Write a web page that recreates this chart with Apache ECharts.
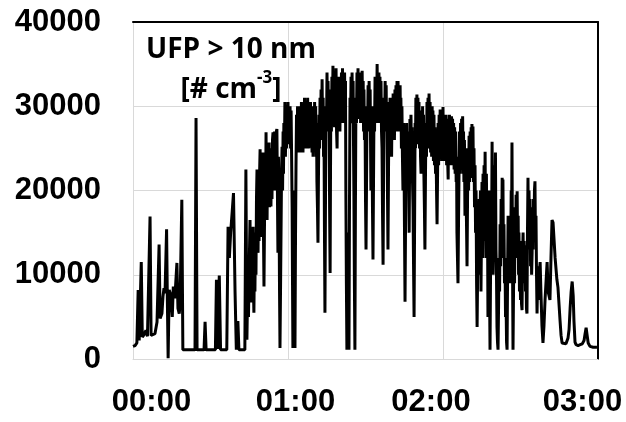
<!DOCTYPE html>
<html>
<head>
<meta charset="utf-8">
<script src="https://cdn.jsdelivr.net/npm/echarts@6/dist/echarts.min.js"></script>
<style>
html,body{margin:0;padding:0;background:#fff;}
#c{width:626px;height:422px;}
</style>
</head>
<body>
<div id="c"></div>
<script>
// x tick labels (minutes 0, 60, 120, 180)
const xTickLabels = ['00:00', '01:00', '02:00', '03:00'];

// UFP > 10 nm [# cm-3] samples as [minutes since 00:00, concentration]
const segStart = [
[0.0,1500],[0.8,1600],[1.5,1900],[2.0,8200],[2.4,2200],[2.9,2100],[3.2,11500],[3.6,2600],[4.3,2900],[5.0,3400],[5.6,2700],[6.3,2600],[6.6,16900],[7.0,2800],[7.7,2600],[8.5,3000],[9.3,4400],[10.1,13600],[10.5,4800],[11.2,5400],[11.6,7400],[12.0,8400],[12.4,7800],[13.0,15400],[13.3,7000],[13.6,100],[14.0,8200],[14.6,7600],[15.2,5000],[15.6,8600],[16.2,7200],[17.0,11400],[17.4,6000],[17.9,5400],[18.2,6400],[18.9,18900],[19.3,1100],
[22.0,1100],[24.0,1100],[24.4,28600],[24.8,1100],[27.5,1100],[27.9,4400],[28.3,1100],[31.9,1100],[32.3,9400],[32.8,1200],[33.4,9900],[33.9,1100],[36.3,1100],[36.8,15700],[37.3,12000],[37.8,15000],[38.4,17500],[38.9,19700],[39.5,8000],[40.0,1100],[40.6,4500],[41.0,1100],[43.3,1100],[43.7,22500],[44.1,2300]
];

const segRise = [
[44.5,11000],[44.7,5000],[44.9,9000],[45.1,13000],[45.3,16500],[45.5,8000],[45.7,6700],[45.9,12000],[46.1,7000],[46.3,13000],[46.5,15700],[46.65,8000],[46.8,5500],[47.0,12000],[47.2,8000],[47.4,15000],[47.6,10000],[47.8,19000],[48.0,22500],[48.2,13000],[48.4,12600],[48.6,20000],[48.8,14000],[49.0,22000],[49.2,24900],[49.4,16000],[49.6,22000],[49.75,16000],[49.9,14500],[50.1,22000],[50.3,24500],[50.5,15000],[50.7,8600],[50.9,16000],[51.1,22000],[51.3,17000],[51.5,26900],[51.7,18000],[51.9,16500],[52.1,25000],[52.3,18000],[52.5,24000],[52.7,25700],[52.85,18000],[53.0,24000],[53.2,19000],[53.4,18100],[53.6,25000],[53.8,19000],[54.0,26000],[54.2,26900],[54.4,20000],[54.6,23700],[54.8,27000],[55.0,20000],[55.15,26000],[55.3,21000],[55.5,27000],[55.7,27300],[55.9,20000],[56.1,12600],[56.3,24000],[56.5,20000],[56.7,9000],[56.9,1300],[57.1,8000],[57.3,15000],[57.5,22000],[57.7,25200],[57.9,20000],[58.1,27000],[58.25,22000],[58.4,28000],[58.6,24000],[58.8,30500],[59.0,24000],[59.2,29000],[59.4,25000],[59.6,29500]
];

const segPeak = [
[59.8,26000],[60.0,30500],[60.2,25500],[60.4,29500],[60.6,26000],[60.8,30000],[61.0,25000],[61.2,29500],[61.4,24000],[61.6,18000],[61.75,9000],[61.9,1300],[62.1,12000],[62.3,20000],[62.5,9000],[62.7,1300],[62.9,14000],[63.1,23000],[63.3,29000],[63.5,25000],[63.7,30000],[63.9,24500],[64.1,29500],[64.3,25500],[64.5,30000],[64.7,24500],[64.85,29000],[65.0,25000],[65.2,30500],[65.4,25500],[65.6,30000],[65.8,24500],[66.0,29500],[66.2,25000],[66.4,31000],[66.6,26000],[66.8,30000],[67.0,25000],[67.2,30500],[67.4,26000],[67.6,31000],[67.8,25500],[67.95,30000],[68.1,25000],[68.3,30500],[68.5,26000],[68.7,30500],[68.9,25500],[69.1,30000],[69.3,24500],[69.5,29500],[69.7,24000],[69.9,30000],[70.1,25000],[70.3,30500],[70.5,25500],[70.7,30000],[70.9,24000],[71.05,28000],[71.2,21000],[71.4,18000],[71.6,13800],[71.8,22000],[72.0,29000],[72.2,25000],[72.4,31000],[72.6,26000],[72.8,32000],[73.0,27000],[73.2,33200],[73.4,26000],[73.6,31000],[73.75,24000],[73.9,30000],[74.1,16000],[74.3,5500],[74.5,18000],[74.7,30000],[74.9,27000],[75.1,34000],[75.3,27500],[75.5,33000],[75.7,27000],[75.9,31000],[76.1,18000],[76.3,10200],[76.45,22000],[76.6,32000],[76.8,27000],[77.0,33500],[77.2,28000],[77.4,34800],[77.6,28000],[77.8,33000],[78.0,27500],[78.2,34000],[78.4,28000],[78.6,34500],[78.8,27000],[79.0,25000],[79.2,32000],[79.4,27500],[79.6,33500],[79.8,28000],[79.95,33000],[80.1,27000],[80.3,33500],[80.5,28500],[80.7,34000],[80.9,28000],[81.1,34500],[81.3,29000],[81.5,33500],[81.7,28000],[81.9,34000],[82.1,29000],[82.25,33000],[82.4,20000],[82.6,9000],[82.8,1100],[83.0,8000],[83.2,15000],[83.4,7000],[83.6,1100],[83.8,18000],[84.0,31000],[84.2,28000],[84.4,33500],[84.6,29000],[84.8,34000],[85.0,28500],[85.2,33000],[85.35,26000],[85.5,20000],[85.7,9000],[85.9,1100],[86.1,18000],[86.3,31000],[86.5,28000],[86.7,34000],[86.9,29000],[87.1,34500],[87.3,28500],[87.5,33500],[87.7,29000],[87.9,34000],[88.1,28000],[88.3,33000],[88.5,29000],[88.7,34200],[88.9,28000],
[89.1,33000],[89.25,27000],[89.4,32000],[89.6,26000],[89.8,30000],[90.0,19000],[90.2,13000],[90.4,21000],[90.6,30000],[90.8,27000],[91.0,32500],[91.2,27500],[91.4,33000],[91.6,28000],[91.8,32000],[91.95,26000],[92.1,20000],[92.3,30000],[92.5,26000],[92.7,18000],[92.9,11800],[93.1,21000],[93.3,30000],[93.5,27000],[93.7,33500],[93.9,28000],[94.1,33000],[94.3,28500],[94.5,35000],[94.7,28500],[94.9,34000],[95.05,28000],[95.2,34000],[95.4,28500],[95.6,33500],[95.8,28000],[96.0,33000],[96.2,27000],[96.4,25000],[96.6,17000],[96.8,11200],[97.0,22000],[97.2,31000],[97.4,27500],[97.6,33000],[97.8,28000],[98.0,32500],[98.15,27000],[98.3,30000],[98.5,20000],[98.7,13000],[98.9,22000],[99.1,30500],[99.3,26000],[99.5,31000],[99.7,25000],[99.9,30000],[100.1,24000],[100.3,31000],[100.5,26000],[100.7,31500],[100.85,26500],[101.0,31000],[101.2,26000],[101.4,32000],[101.6,27000],[101.8,32500],[102.0,27500],[102.2,33000],[102.4,27000],[102.6,33000],[102.8,28000],[103.0,32500],[103.2,27500],[103.4,32500],[103.55,27000],[103.7,31000],[103.9,25000],[104.1,30000],[104.3,24000],[104.5,20000],[104.7,28000],[104.9,24000],[105.1,15000],[105.3,6800],[105.5,16000],[105.7,25000],[105.9,28000],[106.1,21000],[106.3,27000],[106.5,24000],[106.7,22000],[106.9,15000],[107.05,22000],[107.2,28500],[107.4,24000],[107.6,29000],[107.8,24000],[108.0,27500],[108.2,21000],[108.4,18000],[108.6,11000],[108.8,5000],[109.0,16000],[109.2,28000],[109.35,25000],[109.5,31000],[109.7,26000],[109.9,31400],[110.1,26000],[110.3,31000],[110.5,25500],[110.7,30500],[110.9,25000],[111.1,29500],[111.3,24000],[111.5,22000],[111.7,29000],[111.9,24500],[112.1,30000],[112.3,25000],[112.45,29000],[112.6,22000],[112.8,18000],[113.0,13000],[113.2,21000],[113.4,28000],[113.6,24000],[113.8,30500],[114.0,25000],[114.2,31000],[114.4,25500],[114.6,31500],[114.8,25000],[115.0,30500],[115.2,24500],[115.4,30000],[115.6,24000],[115.8,30000],[115.95,25000],[116.1,29500],[116.3,23500],[116.5,29000],[116.7,23000],[116.9,27500],[117.1,22000],[117.3,25000],[117.5,20000],[117.7,16000],[117.9,22000],[118.1,28000],[118.3,23000],[118.5,29000],[118.7,24000],[118.9,29600],[119.1,24000],[119.3,29000],[119.5,23500],[119.7,29500],[119.85,24000]
];

const segDescent = [
[120.0,29900],[120.2,24000],[120.4,29000],[120.6,23500],[120.8,28500],[121.0,24000],[121.2,29000],[121.4,23000],[121.6,28500],[121.8,23500],[122.0,21300],[122.15,27500],[122.3,23000],[122.5,29000],[122.7,23500],[122.9,28500],[123.1,23000],[123.3,28800],[123.5,24000],[123.7,28500],[123.9,23000],[124.1,28000],[124.3,22500],[124.5,27500],[124.7,22000],[124.9,27000],[125.1,21000],[125.25,24000],[125.4,15000],[125.6,12000],[125.8,9000],[126.0,16000],[126.2,22000],[126.4,27000],[126.6,22000],[126.8,28000],[127.0,23000],[127.2,28500],[127.4,22500],[127.6,28800],[127.8,22000],[127.95,27000],[128.1,21000],[128.3,26000],[128.5,17000],[128.7,25000],[128.9,20000],[129.1,16000],[129.3,11000],[129.5,19000],[129.7,25000],[129.9,20000],[130.1,26500],[130.3,21000],[130.5,27000],[130.7,21500],[130.9,27500],[131.05,22000],[131.2,27900],[131.4,22000],[131.6,27600],[131.8,21000],[132.0,25000],
[132.2,18000],[132.4,23000],[132.6,15000],[132.8,20000],[133.0,9000],[133.2,3800],[133.4,10000],[133.6,18000],[133.8,12000],[134.0,19000],[134.15,10000],[134.3,17000],[134.5,20000],[134.7,8000],[134.9,15000],[135.1,21000],[135.3,12000],[135.5,22000],[135.7,14000],[135.9,23000],[136.1,16000],[136.3,24600],[136.45,17000],[136.6,12000],[136.8,22000],[137.0,14000],[137.2,19000],[137.4,5000],[137.6,16000],[137.8,20000],[138.0,9000],[138.2,1100],[138.4,10000],[138.6,18000],[138.8,13000],[139.0,25800],[139.2,15000],[139.4,10000],[139.6,20000],[139.8,14000],[139.95,23000],[140.1,16000],[140.3,24500],[140.5,13000],[140.7,10000],[140.9,3800],[141.1,2000],[141.3,1100],[141.5,6000],[141.7,12000],[141.9,8000],[142.1,16000],[142.3,11000],[142.5,19000],[142.7,13000],[142.9,21500],[143.05,15000],[143.2,21300],[143.4,12000],[143.6,16000],[143.8,9000],[144.0,12000],[144.2,5000],[144.4,7000],[144.6,2000],[144.8,1100],[145.0,10000],[145.2,17000],[145.4,11000],[145.6,15000],[145.8,9000],[146.0,17000],[146.2,12000],[146.4,20000],[146.55,15000],[146.7,25700],[146.9,12000],[147.1,1100],[147.3,8000],[147.5,14000],[147.7,9000],[147.9,18000],[148.1,12000],[148.3,19500],[148.5,13000],[148.7,19900],[148.9,12000],[149.1,17000],[149.25,10000],[149.4,15000],[149.6,8000],[149.8,14000],[150.0,7000],[150.2,12000],[150.4,6500],[150.6,5800],[150.8,12000],[151.0,15000],[151.2,9000],[151.4,14000],[151.6,10000],[151.8,13500],[151.95,8000],[152.1,12000],[152.3,6000],[152.5,5400],[152.7,15000],[152.9,21500],[153.1,14000],[153.3,20000],[153.5,13000],[153.7,19000],[153.9,11000],[154.1,17000],[154.3,10000],[154.5,12600],[154.7,18000],[154.9,13000],[155.05,19000],[155.2,14000],[155.4,20000],[155.6,21100],[155.8,14000],[156.0,17000],[156.2,10000],[156.4,5400],[156.6,9000],[156.8,11000],[157.0,7000],[157.2,10000],[157.6,11500],[157.9,8000],[158.3,4000],[158.7,1900],[159.1,4000],[159.5,7000],[160.3,11500],[160.7,8000],[161.4,7000],[161.8,12000],[162.2,16500],[162.6,16200],[163.4,12000],[164.1,9400],[164.5,8500],[165.3,4600],[165.7,2800],[166.1,1900]
];

const segTail = [
[166.8,1700],[167.6,1800],[168.4,2500],[168.8,3500],[169.2,6000],[169.6,8000],[170.0,9200],[170.4,7500],[170.7,4500],[171.1,2000],[171.5,1700],[172.3,1600],[173.1,1700],[173.9,1800],[174.6,2200],[175.0,3000],[175.4,3700],[175.8,2800],[176.2,1900],[176.9,1500],[178.1,1400],[179.6,1400]
];

const seriesData = [].concat(segStart, segRise, segPeak, segDescent, segTail);

const labelFont = {
  fontFamily: '"Liberation Sans", Arial, sans-serif',
  fontWeight: 'bold',
  fontSize: 31,
  color: '#000'
};

const chart = echarts.init(document.getElementById('c'), null, {renderer: 'canvas'});
chart.setOption({
  animation: false,
  backgroundColor: '#fff',
  grid: {left: 133, right: 28, top: 22, bottom: 63},
  xAxis: [{
    type: 'value', min: 0, max: 180, interval: 60, position: 'bottom',
    axisLine: {show: true, lineStyle: {color: '#d9d9d9', width: 1}},
    axisTick: {show: false},
    splitLine: {show: true, lineStyle: {color: '#d9d9d9', width: 1}},
    axisLabel: Object.assign({}, labelFont, {
      margin: 28,
      showMinLabel: true, showMaxLabel: true,
      formatter: function (v) {
        const i = Math.round(v / 60);
        return '{l' + i + '|' + xTickLabels[i] + '}';
      },
      rich: {
        l0: Object.assign({}, labelFont, {padding: [0, 0, 0, 37]}),
        l1: Object.assign({}, labelFont, {padding: [0, 0, 0, 15]}),
        l2: Object.assign({}, labelFont, {padding: [0, 24, 0, 0]}),
        l3: Object.assign({}, labelFont, {padding: [0, 31, 0, 0]})
      }
    })
  }, {
    type: 'value', min: 0, max: 180, position: 'top',
    axisLine: {show: true, onZero: false, lineStyle: {color: '#000', width: 2}},
    axisTick: {show: false}, axisLabel: {show: false}, splitLine: {show: false}
  }],
  yAxis: [{
    type: 'value', min: 0, max: 40000, interval: 10000,
    axisLine: {show: true, lineStyle: {color: '#d9d9d9', width: 1}},
    axisTick: {show: false},
    splitLine: {show: true, lineStyle: {color: '#d9d9d9', width: 1}},
    axisLabel: Object.assign({}, labelFont, {margin: 32, formatter: function (v) { return String(v); }})
  }, {
    type: 'value', min: 0, max: 40000, position: 'right',
    axisLine: {show: true, onZero: false, lineStyle: {color: '#000', width: 2}},
    axisTick: {show: false}, axisLabel: {show: false}, splitLine: {show: false}
  }],
  graphic: [{
    type: 'text',
    x: 231, y: 30,
    z: 10,
    style: {
      text: '{a|UFP > 10 nm}\n{b|[# cm}{s|-3}{b|]}',
      textAlign: 'center',
      textVerticalAlign: 'top',
      rich: {
        a: {fontFamily: '"Open Sans", sans-serif', fontWeight: 'bold', fontSize: 28, lineHeight: 40, fill: '#000'},
        b: {fontFamily: '"Open Sans", sans-serif', fontWeight: 'bold', fontSize: 28, lineHeight: 40, fill: '#000'},
        s: {fontFamily: '"Open Sans", sans-serif', fontWeight: 'bold', fontSize: 17, lineHeight: 40, verticalAlign: 'top', fill: '#000'}
      }
    }
  }],
  series: [{
    type: 'line',
    xAxisIndex: 0, yAxisIndex: 0,
    data: seriesData,
    showSymbol: false,
    symbol: 'none',
    lineStyle: {color: '#000', width: 3},
    z: 5
  }]
});
</script>
</body>
</html>
